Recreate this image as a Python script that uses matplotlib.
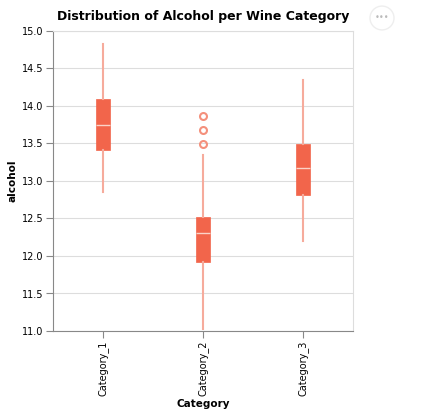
import matplotlib.pyplot as plt
from matplotlib.patches import Circle

categories = ['Category_1', 'Category_2', 'Category_3']
whislo = [12.85, 11.03, 12.2]
q1 = [13.41, 11.92, 12.81]
med = [13.75, 12.31, 13.17]
q3 = [14.09, 12.52, 13.49]
whishi = [14.83, 13.34, 14.34]
fliers = [[], [13.49, 13.68, 13.87], []]

stats = []
for i, c in enumerate(categories):
    stats.append(dict(label=c, whislo=whislo[i], q1=q1[i], med=med[i],
                      q3=q3[i], whishi=whishi[i], fliers=fliers[i]))

fig = plt.figure(figsize=(4.22, 4.19), dpi=100)
ax = fig.add_axes([53/422, 88/419, 300/422, 300/419])
ax.bxp(stats, positions=[0, 1, 2], widths=0.14, patch_artist=True,
       showcaps=False,
       boxprops=dict(facecolor='#f2654b', edgecolor='#f2654b', linewidth=0.5),
       medianprops=dict(color='#fbd3c8', linewidth=1),
       whiskerprops=dict(color='#f6ab9c', linewidth=1.5),
       flierprops=dict(marker='o', markerfacecolor='none', markeredgecolor='#f4907c',
                       markersize=5, markeredgewidth=1.5))
ax.set_xlim(-0.5, 2.5)
ax.set_ylim(11, 15)
ax.set_yticks([11 + 0.5*i for i in range(9)])
ax.set_yticklabels(['%.1f' % (11 + 0.5*i) for i in range(9)], fontsize=7)
ax.set_xticks([0, 1, 2])
ax.set_xticklabels(categories, rotation=90, fontsize=7)
ax.grid(axis='y', color='#dddddd', linewidth=0.8)
ax.set_axisbelow(True)
for s in ['top', 'right']:
    ax.spines[s].set_color('#dddddd')
for s in ['left', 'bottom']:
    ax.spines[s].set_color('#888888')
ax.tick_params(colors='#888888', labelcolor='black', length=5, width=0.8, pad=2)
ax.set_xlabel('Category', fontsize=7.5, fontweight='bold', labelpad=2)
ax.set_ylabel('alcohol', fontsize=7.5, fontweight='bold', labelpad=3)
ax.set_title('Distribution of Alcohol per Wine Category', fontsize=9, fontweight='bold', pad=8)

fig.patches.append(Circle((382/422, 1 - 18/419), 12/422, transform=fig.transFigure,
                          facecolor='white', edgecolor='#eeeeee', linewidth=1))
fig.text(382/422, 1 - 18/419, '•••', ha='center', va='center', fontsize=6, color='#bbbbbb')

fig.savefig('out.png', dpi=100)
